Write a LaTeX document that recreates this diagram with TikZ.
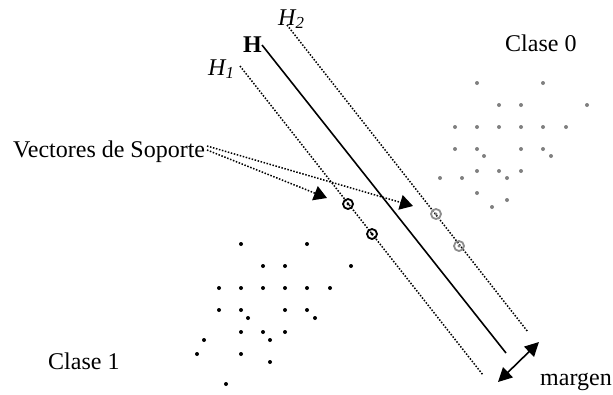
\documentclass[tikz,border=0pt]{standalone}
\usepackage{fontspec}
\setmainfont{Liberation Serif}
\usetikzlibrary{arrows.meta}
\begin{document}
\begin{tikzpicture}[x=1pt,y=-1pt,
  lbl/.style={anchor=base west,inner sep=0pt,font=\fontsize{24}{28}\selectfont},
  dotline/.style={line width=1.5pt,dash pattern=on 1.5pt off 1.6pt},
  hyper/.style={line width=1.6pt},
  pointer/.style={dotline,-{Triangle[length=13pt,width=15pt]}},
  marg/.style={line width=1.6pt,{Triangle[length=14pt,width=14pt]}-{Triangle[length=14pt,width=14pt]}},
  svblack/.style={circle,draw=black,line width=1.8pt,minimum size=10pt,inner sep=0pt},
  svgrey/.style={circle,draw=gray!90,line width=1.8pt,minimum size=10pt,inner sep=0pt},
  pblack/.style={fill=black},
  pgrey/.style={fill=gray}]
\useasboundingbox (0,0) rectangle (613,394);
% hyperplanes
\coordinate (h1a) at (240,66);  \coordinate (h1b) at (483,375);
\coordinate (ha)  at (262,45);  \coordinate (hb)  at (506,353);
\coordinate (h2a) at (287,25);  \coordinate (h2b) at (528,332);
\draw[dotline] (h1a) -- (h1b);
\draw[hyper] (ha) -- (hb);
\draw[dotline] (h2a) -- (h2b);
% labels
\node[lbl] (lH1) at (208,75) {\textit{H\textsubscript{1}}};
\node[lbl] (lH) at (243,52) {\textbf{H}};
\node[lbl] (lH2) at (278,25) {\textit{H\textsubscript{2}}};
\node[lbl] (c0) at (505,51) {Clase 0};
\node[lbl] (c1) at (48,369) {Clase 1};
\node[lbl] (vs) at (13,157) {Vectores de Soporte};
\node[lbl] (mg) at (540,385) {margen};
% support vectors
\node[svblack] (sv1) at (348,204) {};
\node[svblack] (sv2) at (372,234) {};
\node[svgrey] (sv3) at (436,214) {};
\node[svgrey] (sv4) at (459,246) {};
\foreach \n/\c in {sv1/black,sv2/black,sv3/gray,sv4/gray}
  \fill[\c] (\n.center) circle (1.6pt);
% pointers
\coordinate (vsA) at (207,150);
\coordinate (vsB) at (207,146);
\coordinate (t1) at (327,198);
\coordinate (t2) at (413,206);
\draw[pointer] (vsA) -- (t1);
\draw[pointer] (vsB) -- (t2);
% margin arrow
\coordinate (m1) at (498,382);
\coordinate (m2) at (539,342);
\draw[marg] (m1) -- (m2);
% class 0 points
\foreach \x/\y in {477/83,543/83,499/105,521/105,587/105,455/127,477/127,499/127,521/127,543/127,566/127,455/149,477/149,521/149,543/149,484/156,551/156,477/171,499/171,521/171,440/178,462/178,507/178,477/193,507/200,492/207}
  \fill[pgrey] (\x,\y) circle (2pt);
% class 1 points
\foreach \x/\y in {241/244,307/244,263/266,285/266,351/266,219/288,241/288,263/288,285/288,307/288,330/288,219/310,241/310,285/310,307/310,248/318,315/318,241/332,263/332,285/332,204/340,270/340,197/354,241/354,270/362,226/384}
  \fill[pblack] (\x,\y) circle (2pt);
\end{tikzpicture}
\end{document}
